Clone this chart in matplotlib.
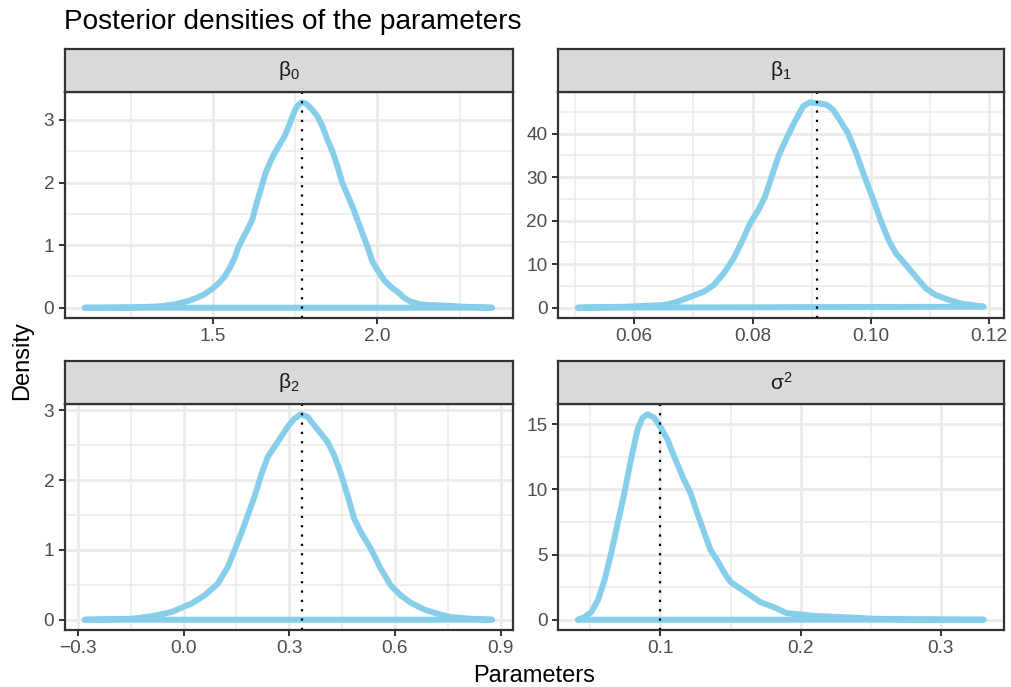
import numpy as np
import matplotlib
matplotlib.use("Agg")
import matplotlib.pyplot as plt
from matplotlib.ticker import AutoMinorLocator

plt.rcParams['font.family'] = ['Liberation Sans', 'DejaVu Sans']
plt.rcParams['mathtext.fontset'] = 'custom'
plt.rcParams['mathtext.rm'] = 'Liberation Sans'
plt.rcParams['mathtext.it'] = 'Liberation Sans:italic'

# posterior density curves
b0_x = [1.1111, 1.2525, 1.3333, 1.3838, 1.4242, 1.4545, 1.4747, 1.5000, 1.5202, 1.5354,
        1.5505, 1.5657, 1.5758, 1.5909, 1.6061, 1.6212, 1.6313, 1.6465, 1.6616, 1.6818,
        1.7020, 1.7172, 1.7323, 1.7475, 1.7576, 1.7697, 1.7828, 1.8030, 1.8182, 1.8333,
        1.8485, 1.8636, 1.8788, 1.8939, 1.9091, 1.9242, 1.9394, 1.9545, 1.9697, 1.9848,
        2.0000, 2.0202, 2.0404, 2.0606, 2.0808, 2.1010, 2.1313, 2.1616, 2.2121, 2.2626,
        2.3485]
b0_y = [0.0, 0.005, 0.021, 0.053, 0.107, 0.165, 0.218, 0.309, 0.405, 0.495,
        0.629, 0.788, 0.948, 1.108, 1.257, 1.428, 1.641, 1.907, 2.174, 2.413,
        2.600, 2.733, 2.920, 3.133, 3.229, 3.282, 3.261, 3.159, 3.053, 2.893,
        2.680, 2.493, 2.254, 1.987, 1.801, 1.614, 1.401, 1.188, 0.975, 0.735,
        0.602, 0.442, 0.336, 0.256, 0.160, 0.096, 0.053, 0.043, 0.032, 0.016,
        0.0]

b1_x = [0.05048, 0.05832, 0.06504, 0.06728, 0.06952, 0.07175, 0.07343, 0.07511, 0.07679,
        0.07819, 0.07959, 0.08099, 0.08211, 0.08323, 0.08435, 0.08575, 0.08715, 0.08855,
        0.08967, 0.09079, 0.09247, 0.09359, 0.09470, 0.09610, 0.09750, 0.09890, 0.10030,
        0.10170, 0.10310, 0.10422, 0.10590, 0.10758, 0.10926, 0.11094, 0.11318, 0.11542,
        0.11906]
b1_y = [0.0, 0.23, 0.61, 1.38, 2.53, 3.69, 5.22, 7.91, 11.36,
        15.20, 19.42, 22.50, 25.57, 30.17, 34.78, 39.00, 42.84, 46.30,
        47.22, 47.06, 46.68, 45.53, 43.22, 40.15, 35.55, 30.17, 25.18,
        19.81, 15.20, 12.51, 9.83, 7.14, 4.45, 2.92, 1.77, 0.92,
        0.23]

b2_x = [-0.2804, -0.1482, -0.0916, -0.0349, 0.0217, 0.0595, 0.0972, 0.1256, 0.1445,
        0.1633, 0.1822, 0.2011, 0.2200, 0.2389, 0.2672, 0.2955, 0.3144, 0.3333, 0.3522,
        0.3710, 0.3899, 0.4088, 0.4277, 0.4466, 0.4655, 0.4843, 0.5032, 0.5315, 0.5599,
        0.5882, 0.6165, 0.6448, 0.6826, 0.7204, 0.7581, 0.8148, 0.8762]
b2_y = [0.0, 0.014, 0.048, 0.110, 0.229, 0.349, 0.516, 0.755, 0.994,
        1.233, 1.495, 1.758, 2.069, 2.332, 2.547, 2.762, 2.881, 2.943, 2.905,
        2.785, 2.666, 2.547, 2.355, 2.093, 1.782, 1.448, 1.257, 1.018, 0.731,
        0.492, 0.349, 0.244, 0.148, 0.086, 0.038, 0.014, 0.0]

s2_x = [0.04113, 0.04586, 0.05059, 0.05532, 0.06005, 0.06478, 0.06950, 0.07423, 0.07896,
        0.08369, 0.08723, 0.09078, 0.09551, 0.10024, 0.10496, 0.10969, 0.11678, 0.12151,
        0.12624, 0.13097, 0.13570, 0.14043, 0.14515, 0.14988, 0.15697, 0.16407, 0.17116,
        0.18061, 0.19007, 0.19953, 0.21135, 0.22790, 0.23972, 0.25154, 0.27518, 0.33073]
s2_y = [0.0, 0.21, 0.59, 1.49, 3.03, 5.09, 7.41, 9.72, 12.30,
        14.61, 15.51, 15.77, 15.51, 14.74, 13.84, 12.55, 10.75, 9.72,
        8.18, 6.77, 5.35, 4.58, 3.68, 2.91, 2.39, 1.88, 1.36,
        0.98, 0.51, 0.41, 0.28, 0.21, 0.15, 0.08, 0.03, 0.0]

means = [1.772, 0.0909, 0.335, 0.100]
labels = [r'$\mathrm{\beta_0}$', r'$\mathrm{\beta_1}$', r'$\mathrm{\beta_2}$', r'$\mathrm{\sigma^2}$']

x_ticks = [[1.5, 2.0], [0.06, 0.08, 0.10, 0.12], [-0.3, 0.0, 0.3, 0.6, 0.9], [0.1, 0.2, 0.3]]
x_ticklabels = [['1.5', '2.0'], ['0.06', '0.08', '0.10', '0.12'],
                ['\u22120.3', '0.0', '0.3', '0.6', '0.9'], ['0.1', '0.2', '0.3']]
y_ticks = [[0, 1, 2, 3], [0, 10, 20, 30, 40], [0, 1, 2, 3], [0, 5, 10, 15]]

curves = [(b0_x, b0_y), (b1_x, b1_y), (b2_x, b2_y), (s2_x, s2_y)]

W, H = 1011, 687
fig = plt.figure(figsize=(W / 100, H / 100), dpi=100)

# panel boxes in pixels: (left, right) per column, (top, bottom) per row
cols = [(64.5, 512.5), (557.7, 1004)]
rows = [(92, 318), (404, 630)]
strip_h = 43

dark = '#333333'
for i, (cx, cy) in enumerate(curves):
    (l, r) = cols[i % 2]
    (t, b) = rows[i // 2]
    ax = fig.add_axes([l / W, 1 - b / H, (r - l) / W, (b - t) / H])
    st = fig.add_axes([l / W, 1 - t / H, (r - l) / W, strip_h / H])

    x = np.array(cx)
    y = np.array(cy)
    xr = x.max() - x.min()
    ax.set_xlim(x.min() - 0.05 * xr, x.max() + 0.05 * xr)
    ax.set_ylim(-0.05 * y.max(), 1.05 * y.max())

    ax.set_xticks(x_ticks[i])
    ax.set_xticklabels(x_ticklabels[i])
    ax.set_yticks(y_ticks[i])
    ax.xaxis.set_minor_locator(AutoMinorLocator(2))
    ax.yaxis.set_minor_locator(AutoMinorLocator(2))
    ax.grid(which='major', color='#EBEBEB', linewidth=2.0)
    ax.grid(which='minor', color='#EBEBEB', linewidth=1.1)
    ax.set_axisbelow(True)
    ax.tick_params(which='major', length=4.3, width=1.4, color=dark,
                   labelsize=13.7, labelcolor='#4D4D4D', pad=3)
    ax.tick_params(which='minor', length=0)
    for s in ax.spines.values():
        s.set_color(dark)
        s.set_linewidth(1.6)

    # closed outline like geom_density
    ax.plot(np.append(x, x[0]), np.append(y, 0), color='#87CEEB', linewidth=4.3,
            solid_capstyle='round', solid_joinstyle='round', zorder=3)
    ax.axvline(means[i], color='black', linewidth=1.6, linestyle=(0, (1, 3.2)), zorder=4)

    st.set_facecolor('#D9D9D9')
    st.set_xticks([])
    st.set_yticks([])
    for s in st.spines.values():
        s.set_color(dark)
        s.set_linewidth(1.6)
    st.text(0.5, 0.5, labels[i], ha='center', va='center', fontsize=15,
            color='#1A1A1A', transform=st.transAxes)

fig.text(64 / W, 1 - 22 / H, 'Posterior densities of the parameters', fontsize=20.2,
         ha='left', va='center', color='black')
fig.text(534 / W, 1 - 676 / H, 'Parameters', fontsize=17, ha='center', va='center')
fig.text(22 / W, 1 - 361 / H, 'Density', fontsize=17, ha='center', va='center', rotation=90)

fig.savefig('out.png', dpi=100)
